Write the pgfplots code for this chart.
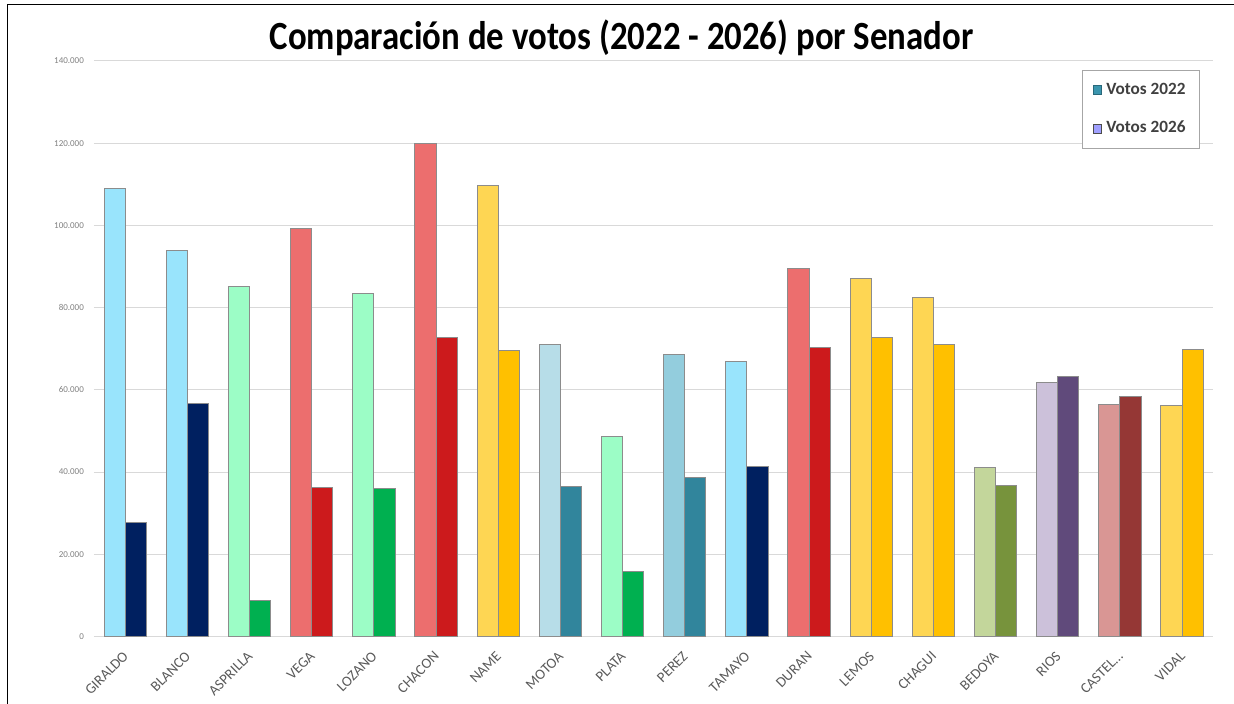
\documentclass[border=0pt]{standalone}
\usepackage{fontspec}
\setmainfont{Carlito}
\usepackage{pgfplots}
\pgfplotsset{compat=1.18}

\definecolor{sky}{HTML}{99E4FC}
\definecolor{navy}{HTML}{002060}
\definecolor{mint}{HTML}{9CFDC6}
\definecolor{grn}{HTML}{00B050}
\definecolor{salmon}{HTML}{EC6E6E}
\definecolor{red}{HTML}{CC1A1C}
\definecolor{yel}{HTML}{FED653}
\definecolor{gold}{HTML}{FFC000}
\definecolor{motoal}{HTML}{B7DDE8}
\definecolor{teal}{HTML}{31859C}
\definecolor{perezl}{HTML}{93CDDD}
\definecolor{bedl}{HTML}{C3D69B}
\definecolor{bedd}{HTML}{77933C}
\definecolor{riosl}{HTML}{CCC1DA}
\definecolor{riosd}{HTML}{604A7B}
\definecolor{casl}{HTML}{D99694}
\definecolor{casd}{HTML}{953735}
\definecolor{leg22}{HTML}{3A95AE}
\definecolor{leg26}{HTML}{A0A0FF}
\definecolor{gridc}{HTML}{D9D9D9}

\pgfplotsset{
  b22/.style={ybar, bar width=0.34, bar shift=-0.17, draw=black!45, line width=0.3pt, fill=#1, forget plot},
  b26/.style={ybar, bar width=0.34, bar shift=0.17, draw=black!45, line width=0.3pt, fill=#1, forget plot},
}

\begin{document}
\begin{tikzpicture}
\path[use as bounding box] (0,0) rectangle (617pt,352pt);
\draw[line width=0.75pt] (3.75pt,0) -- (3.75pt,349.75pt) -- (617pt,349.75pt);
\node[font=\fontsize{20}{24}\selectfont\bfseries, xscale=0.87] at (310.75pt,333pt) {Comparación de votos (2022 - 2026) por Senador};
\begin{axis}[
  at={(46.96pt,33.75pt)}, anchor=south west,
  scale only axis, width=559.5pt, height=287.75pt,
  xmin=-0.5, xmax=17.5, ymin=0, ymax=140000,
  axis line style={draw=none},
  major tick length=0pt,
  ymajorgrids, grid style={gridc, line width=0.5pt},
  ytick={0,20000,40000,60000,80000,100000,120000,140000},
  scaled y ticks=false,
  /pgf/number format/.cd, 1000 sep={.}, fixed, assume math mode=true, /pgfplots/.cd,
  yticklabel style={font=\fontsize{4.5}{5}\selectfont, text=black!50, xshift=-1.5pt},
  xtick={0,...,17},
  xticklabels={GIRALDO,BLANCO,ASPRILLA,VEGA,LOZANO,CHACON,NAME,MOTOA,PLATA,PEREZ,TAMAYO,DURAN,LEMOS,CHAGUI,BEDOYA,RIOS,CASTEL…,VIDAL},
  xticklabel style={font=\fontsize{7.3}{8}\selectfont, text=black!65, xshift=1.2pt, yshift=-7.9pt, rotate=45, anchor=east, inner sep=1pt},
  legend image code/.code={\draw[#1] (0pt,-2.2pt) rectangle (4.4pt,2.2pt);},
  legend style={at={(0.883,0.9835)}, anchor=north west, draw=black!35, line width=0.5pt,
    font=\fontsize{8.6}{10}\selectfont\bfseries, text=black!75, row sep=8pt,
    inner xsep=5pt, inner ysep=4pt},
  legend cell align=left,
]
\addlegendimage{fill=leg22, draw=leg22!70!black}
\addlegendentry{Votos 2022}
\addlegendimage{fill=leg26, draw=black!70}
\addlegendentry{Votos 2026}

\addplot[b22=sky] coordinates {(0,109100)};
\addplot[b26=navy] coordinates {(0,27900)};
\addplot[b22=sky] coordinates {(1,94000)};
\addplot[b26=navy] coordinates {(1,56700)};
\addplot[b22=mint] coordinates {(2,85300)};
\addplot[b26=grn] coordinates {(2,8900)};
\addplot[b22=salmon] coordinates {(3,99200)};
\addplot[b26=red] coordinates {(3,36400)};
\addplot[b22=mint] coordinates {(4,83600)};
\addplot[b26=grn] coordinates {(4,36000)};
\addplot[b22=salmon] coordinates {(5,120000)};
\addplot[b26=red] coordinates {(5,72900)};
\addplot[b22=yel] coordinates {(6,109800)};
\addplot[b26=gold] coordinates {(6,69600)};
\addplot[b22=motoal] coordinates {(7,71200)};
\addplot[b26=teal] coordinates {(7,36500)};
\addplot[b22=mint] coordinates {(8,48600)};
\addplot[b26=grn] coordinates {(8,15800)};
\addplot[b22=perezl] coordinates {(9,68600)};
\addplot[b26=teal] coordinates {(9,38700)};
\addplot[b22=sky] coordinates {(10,67000)};
\addplot[b26=navy] coordinates {(10,41300)};
\addplot[b22=salmon] coordinates {(11,89600)};
\addplot[b26=red] coordinates {(11,70300)};
\addplot[b22=yel] coordinates {(12,87200)};
\addplot[b26=gold] coordinates {(12,72800)};
\addplot[b22=yel] coordinates {(13,82500)};
\addplot[b26=gold] coordinates {(13,71200)};
\addplot[b22=bedl] coordinates {(14,41100)};
\addplot[b26=bedd] coordinates {(14,36900)};
\addplot[b22=riosl] coordinates {(15,61800)};
\addplot[b26=riosd] coordinates {(15,63200)};
\addplot[b22=casl] coordinates {(16,56600)};
\addplot[b26=casd] coordinates {(16,58500)};
\addplot[b22=yel] coordinates {(17,56200)};
\addplot[b26=gold] coordinates {(17,69800)};
\end{axis}
\end{tikzpicture}
\end{document}
